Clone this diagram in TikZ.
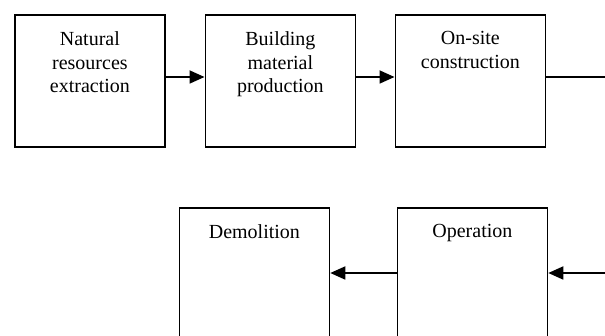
\documentclass[tikz,border=0pt]{standalone}
\usepackage{fontspec}
\setmainfont{Liberation Serif}
\usetikzlibrary{arrows.meta}
\begin{document}
\begin{tikzpicture}[x=1pt,y=-1pt,
  stagebox/.style={draw=black,line width=1.8pt,rectangle,minimum width=150pt,minimum height=132pt,inner sep=0pt,anchor=north west},
  stagetext/.style={anchor=north,inner sep=0pt,align=center,font=\fontsize{20}{23.5}\selectfont},
  conn/.style={line width=1.8pt},
  arr/.style={conn,-{Triangle[length=15pt,width=13pt]}}]
\useasboundingbox (0,0) rectangle (605,336);
% top row
\node[stagebox] (b1) at (14,14) {};
\node[stagebox] (b2) at (204.5,14) {};
\node[stagebox] (b3) at (394.5,14) {};
% bottom row
\node[stagebox] (b4) at (178.5,207) {};
\node[stagebox] (b5) at (396.5,207) {};
% texts
\node[stagetext] (t1) at ([yshift=-17.5pt]b1.north) {Natural\\resources\\extraction};
\node[stagetext] (t2) at ([yshift=-17.5pt]b2.north) {Building\\material\\production};
\node[stagetext] (t3) at ([yshift=-17.5pt]b3.north) {On-site\\construction};
\node[stagetext] (t4) at ([yshift=-17.5pt]b4.north) {Demolition};
\node[stagetext] (t5) at ([yshift=-17.5pt]b5.north) {Operation};
% connectors
\coordinate (rt) at (605,77);
\coordinate (rb) at (605,273);
\draw[arr] (b1.east |- rt) -- (b2.west |- rt);
\draw[arr] (b2.east |- rt) -- (b3.west |- rt);
\draw[conn] (b3.east |- rt) -- (rt);
\draw[arr] (rb) -- (b5.east |- rb);
\draw[arr] (b5.west |- rb) -- (b4.east |- rb);
\end{tikzpicture}
\end{document}
